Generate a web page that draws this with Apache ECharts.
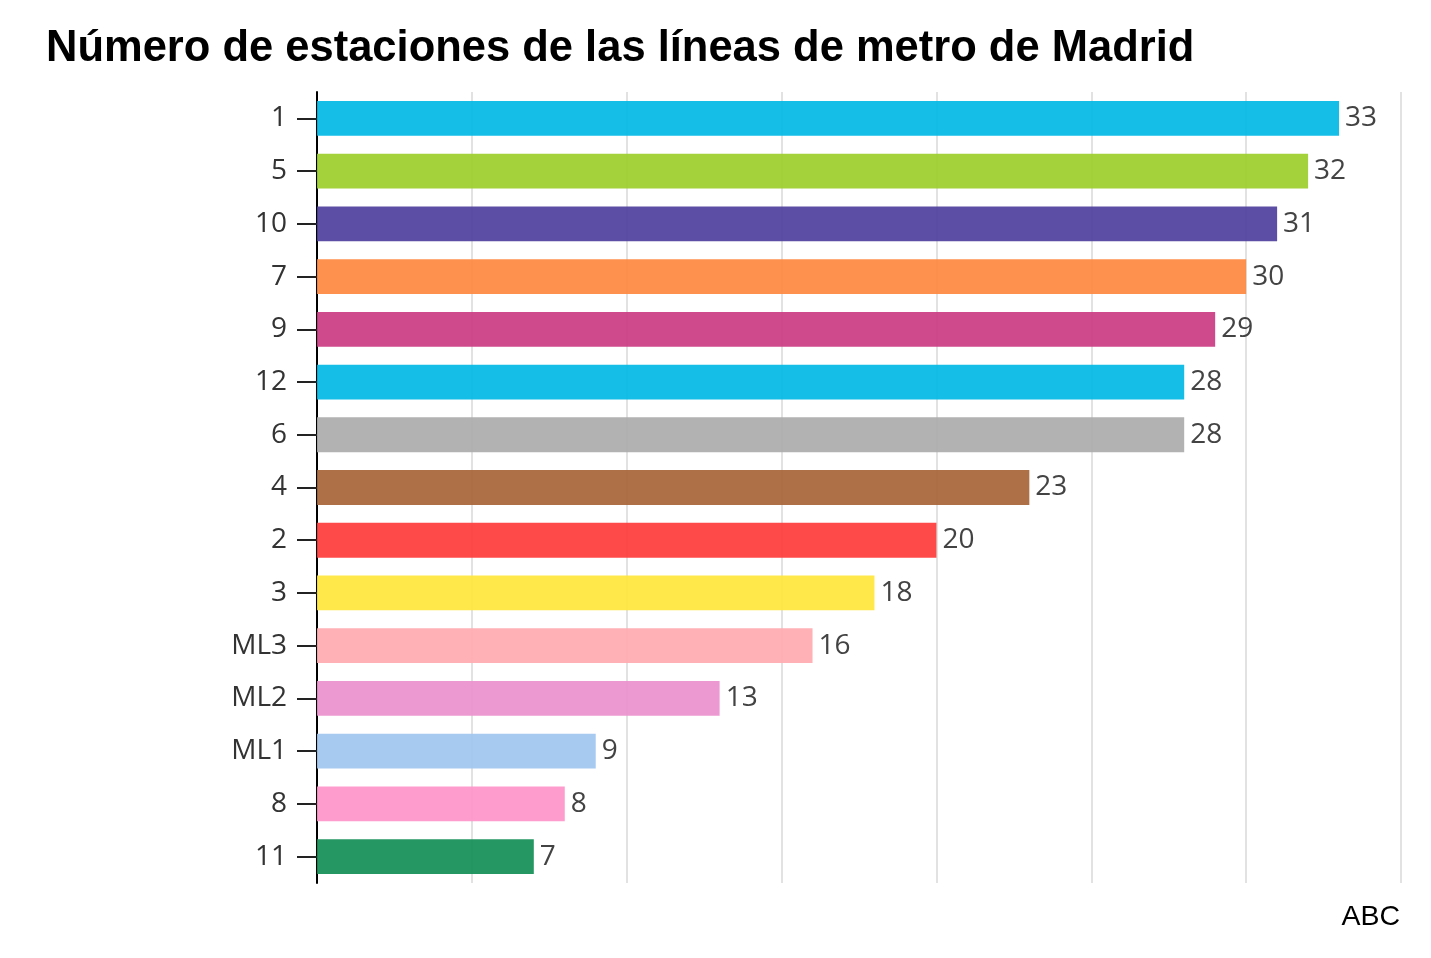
<!DOCTYPE html>
<html>
<head>
<meta charset="utf-8">
<script src="https://cdn.jsdelivr.net/npm/echarts@6/dist/echarts.min.js"></script>
<style>html,body{margin:0;padding:0;background:#fff;}#c{width:1431px;height:958px;}</style>
</head>
<body>
<div id="c"></div>
<script>
const categories = ['1','5','10','7','9','12','6','4','2','3','ML3','ML2','ML1','8','11'];
const values = [33,32,31,30,29,28,28,23,20,18,16,13,9,8,7];
const colors = ['#00b8e5','#9cce29','#4d3f9c','#ff883f','#cb3b83','#00b8e5','#adabab','#a76436','#ff3b3b','#ffe63b','#ffaab0','#ec90cd','#9fc6f0','#ff94ca','#128e55'];
const xTicks = [0,5,10,15,20,25,30,35];

const chart = echarts.init(document.getElementById('c'), null, {renderer:'canvas'});
chart.setOption({
  backgroundColor:'#fff',
  animation:false,
  title:[{
    text:'Número de estaciones de las líneas de metro de Madrid',
    left:41, top:22,
    textStyle:{fontFamily:'Liberation Sans, Arial', fontWeight:'bold', fontSize:43.5, color:'#000'}
  },{
    text:'ABC', right:26, top:898,
    textStyle:{fontFamily:'Liberation Sans, Arial', fontWeight:'normal', fontSize:28.5, color:'#000'}
  }],
  grid:{left:317, right:30, top:92, bottom:75, containLabel:false},
  xAxis:{
    type:'value', min:xTicks[0], max:xTicks[xTicks.length-1], interval:5,
    axisLabel:{show:false}, axisLine:{show:false}, axisTick:{show:false},
    splitLine:{show:true, lineStyle:{color:'#e2e2e2', width:2}}
  },
  yAxis:{
    type:'category', data:categories, inverse:true,
    axisLine:{show:true, lineStyle:{color:'#000', width:2}},
    axisTick:{show:true, alignWithLabel:true, length:20, lineStyle:{color:'#222', width:2}},
    axisLabel:{fontFamily:'Open Sans', fontSize:28, color:'#333', margin:30}
  },
  series:[{
    type:'bar',
    data: values.map((v,i)=>({value:v, itemStyle:{color:colors[i], opacity:0.92}})),
    barWidth:'66%',
    label:{show:true, position:'right', distance:6, fontFamily:'Open Sans', fontSize:28, color:'#333'}
  }]
});
</script>
</body>
</html>
